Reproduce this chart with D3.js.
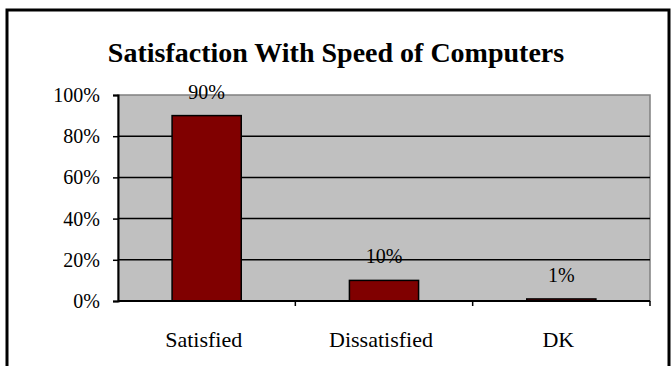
<!DOCTYPE html>
<html>
<head>
<meta charset="utf-8">
<script src="https://cdn.jsdelivr.net/npm/d3@7"></script>
<style>
  html, body { margin: 0; padding: 0; background: #fff; }
  svg { display: block; }
</style>
</head>
<body>
<div id="chart"></div>
<script>
// Survey results: satisfaction with computer speed
const categories = ["Satisfied", "Dissatisfied", "DK"];
const values = [90, 10, 1];
const tickValues = [0, 20, 40, 60, 80, 100];
const tickLabels = ["0%", "20%", "40%", "60%", "80%", "100%"];
const valueLabels = ["90%", "10%", "1%"];
const chartTitle = "Satisfaction With Speed of Computers";

const SERIF = "'Liberation Serif', 'Times New Roman', Times, serif";
const W = 671, H = 366;
const plot = { left: 118, right: 650, top: 95, bottom: 301 };

const svg = d3.select("#chart").append("svg")
  .attr("width", W).attr("height", H)
  .style("font-family", SERIF);

// Outer frame
svg.append("rect")
  .attr("x", 7).attr("y", 10)
  .attr("width", 662).attr("height", 380)
  .attr("fill", "#fff").attr("stroke", "#000").attr("stroke-width", 3);

// Title
svg.append("text")
  .attr("x", 336).attr("y", 62)
  .attr("text-anchor", "middle")
  .style("font-family", SERIF)
  .style("font-size", "28px").style("font-weight", "bold")
  .text(chartTitle);

const x = d3.scaleBand().domain(categories).range([plot.left, plot.right]).padding(0);
const y = d3.scaleLinear().domain([0, 100]).range([plot.bottom, plot.top]);

// Plot area background
svg.append("rect")
  .attr("x", plot.left).attr("y", plot.top)
  .attr("width", plot.right - plot.left).attr("height", plot.bottom - plot.top)
  .attr("fill", "#c0c0c0").attr("stroke", "#808080").attr("stroke-width", 1.5);

// Horizontal gridlines
svg.append("g").selectAll("line")
  .data(tickValues.filter(v => v > 0 && v < 100))
  .join("line")
  .attr("x1", plot.left).attr("x2", plot.right)
  .attr("y1", d => y(d)).attr("y2", d => y(d))
  .attr("stroke", "#000").attr("stroke-width", 1.5);

// Bars
const barW = x.bandwidth() * 0.39;
svg.append("g").selectAll("rect")
  .data(values)
  .join("rect")
  .attr("x", (d, i) => x(categories[i]) + (x.bandwidth() - barW) / 2)
  .attr("y", d => y(d))
  .attr("width", barW)
  .attr("height", d => y(0) - y(d))
  .attr("fill", "#800000").attr("stroke", "#000").attr("stroke-width", 1.5);

// Value labels above bars
svg.append("g").selectAll("text")
  .data(values)
  .join("text")
  .attr("x", (d, i) => x(categories[i]) + x.bandwidth() / 2)
  .attr("y", d => y(d) - 17)
  .attr("text-anchor", "middle")
  .style("font-family", SERIF)
  .style("font-size", "20px")
  .text((d, i) => valueLabels[i]);

// Y axis
const yAxis = d3.axisLeft(y)
  .tickValues(tickValues)
  .tickFormat((d, i) => tickLabels[i])
  .tickSize(5).tickPadding(13);
const gy = svg.append("g").attr("transform", `translate(${plot.left},0)`).call(yAxis);
gy.attr("font-family", null).attr("font-size", null);
gy.select(".domain").attr("stroke", "#000").attr("stroke-width", 2);
gy.selectAll(".tick line").attr("stroke", "#000").attr("stroke-width", 1.5);
gy.selectAll(".tick text")
  .style("font-family", SERIF)
  .style("font-size", "20px").attr("fill", "#000");

// X axis: ticks at category boundaries
const gx = svg.append("g").attr("transform", `translate(0,${plot.bottom})`);
gx.append("line")
  .attr("x1", plot.left).attr("x2", plot.right)
  .attr("stroke", "#000").attr("stroke-width", 2);
const bounds = categories.map(c => x(c) + x.bandwidth());
gx.selectAll("line.tk")
  .data(bounds)
  .join("line").attr("class", "tk")
  .attr("x1", d => d).attr("x2", d => d)
  .attr("y1", 0).attr("y2", 5)
  .attr("stroke", "#000").attr("stroke-width", 1.5);
gx.selectAll("text")
  .data(categories)
  .join("text")
  .attr("x", d => x(d) + x.bandwidth() / 2 - 3)
  .attr("y", 46)
  .attr("text-anchor", "middle")
  .style("font-family", SERIF)
  .style("font-size", "22px")
  .text(d => d);
</script>
</body>
</html>
